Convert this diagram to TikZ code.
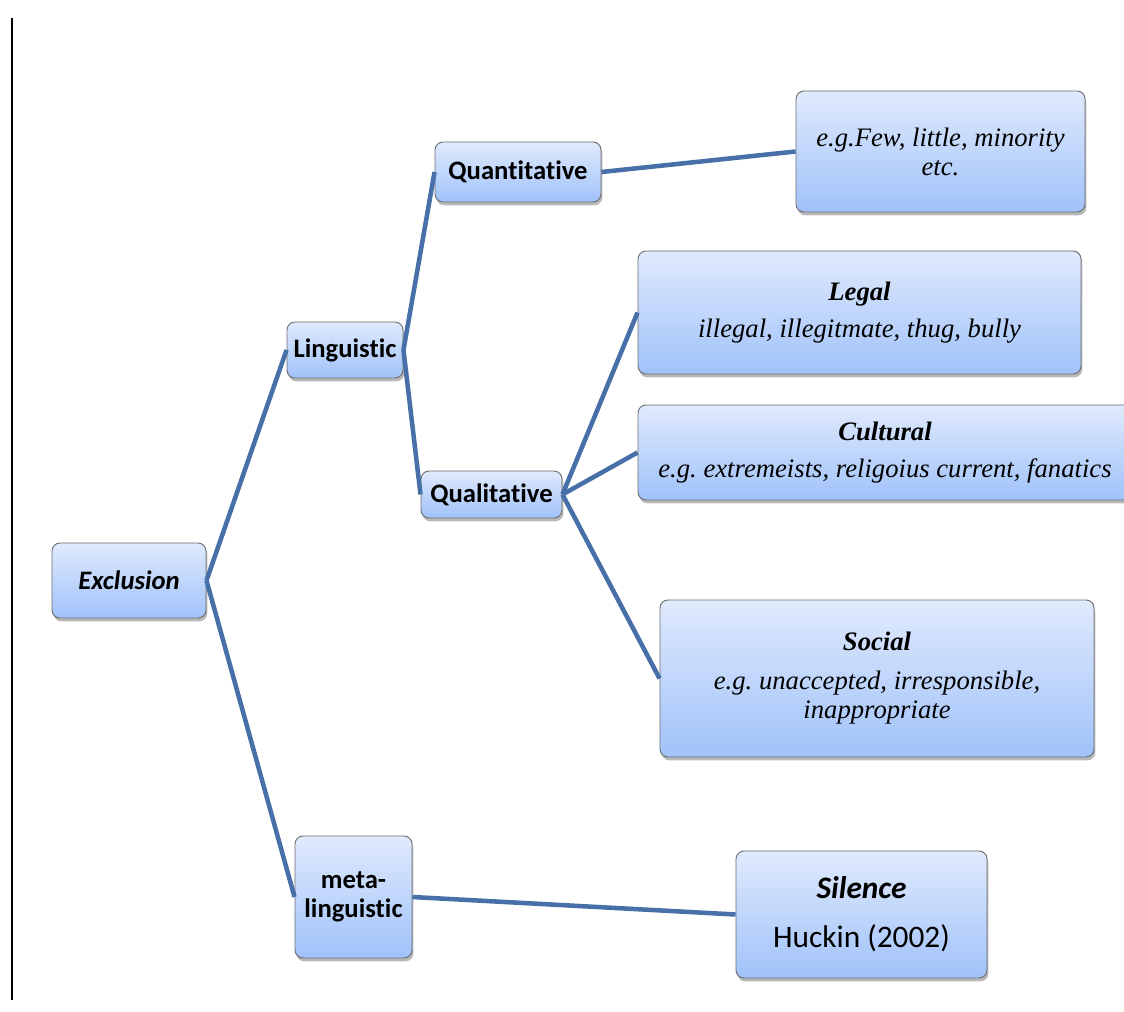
\documentclass[tikz,border=0pt]{standalone}
\usepackage{fontspec}
\setmainfont{Liberation Serif}
\setsansfont[Ligatures={NoCommon}]{Carlito}
\usetikzlibrary{shadows}
\frenchspacing
\definecolor{linkblue}{RGB}{72,112,168}
\definecolor{boxtop}{RGB}{224,234,252}
\definecolor{boxbot}{RGB}{160,194,250}
\definecolor{boxline}{RGB}{110,110,115}
\tikzset{
  box/.style={rectangle, rounded corners=6pt, draw=boxline, line width=0.7pt,
    top color=boxtop, bottom color=boxbot,
    drop shadow={shadow xshift=1pt, shadow yshift=-2.5pt, opacity=0.28, fill=black},
    inner sep=2pt, align=center},
  sansbox/.style={box, font=\sffamily\bfseries\fontsize{20}{22}\selectfont},
  serifbox/.style={box, font=\itshape\fontsize{20}{21.75}\selectfont},
  link/.style={draw=linkblue, line width=3.4pt},
}
\begin{document}
\begin{tikzpicture}[x=0.75pt,y=-0.75pt]
\useasboundingbox (0,0) rectangle (1124,1012);
\clip (0,0) rectangle (1124,1012);
\fill[white] (0,0) rectangle (1124,1012);
% left rule
\draw[black, line width=1.7pt] (12,18) -- (12,1000);

% nodes
\node[sansbox, minimum width=115.5pt, minimum height=56.25pt] (excl) at (129,580.5) {\itshape Exclusion};
\node[sansbox, minimum width=87pt, minimum height=42pt] (ling) at (345,350) {Linguistic};
\node[sansbox, minimum width=124.5pt, minimum height=45pt] (quant) at (518,172) {Quantitative};
\node[sansbox, minimum width=105.75pt, minimum height=35.25pt] (qual) at (491.5,494.5) {Qualitative};
\node[sansbox, minimum width=87.75pt, minimum height=91.5pt] (meta) at (353.5,897) {meta-\\linguistic};

\node[serifbox, minimum width=216.75pt, minimum height=90.75pt] (few) at (940.5,151.5) {e.g.Few, little, minority\\etc.};
\node[serifbox, minimum width=332.25pt, minimum height=92.25pt] (legal) at (859.5,312.5) {\bfseries Legal\\[6.5pt]illegal, illegitmate, thug, bully};
\node[serifbox, minimum width=370.5pt, minimum height=71.25pt] (cult) at (885,452.5) {\bfseries Cultural\\[6.5pt]e.g. extremeists, religoius current, fanatics};
\node[serifbox, minimum width=325.5pt, minimum height=117.75pt] (soc) at (877,678.5) {\bfseries Social\\[7.5pt]e.g. unaccepted, irresponsible,\\inappropriate};
\node[box, font=\sffamily\fontsize{23.5}{26}\selectfont, minimum width=188.25pt, minimum height=95.25pt] (sil) at (861.5,914.5) {\bfseries\itshape Silence\\[11pt]Huckin (2002)};

% connectors
\draw[link] (excl.east) -- (ling.west);
\draw[link] (excl.east) -- (meta.west);
\draw[link] (ling.east) -- (quant.west);
\draw[link] (ling.east) -- (qual.west);
\draw[link] (quant.east) -- (few.west);
\draw[link] (qual.east) -- (legal.west);
\draw[link] (qual.east) -- (cult.west);
\draw[link] (qual.east) -- (soc.west);
\draw[link] (meta.east) -- (sil.west);
\end{tikzpicture}
\end{document}
